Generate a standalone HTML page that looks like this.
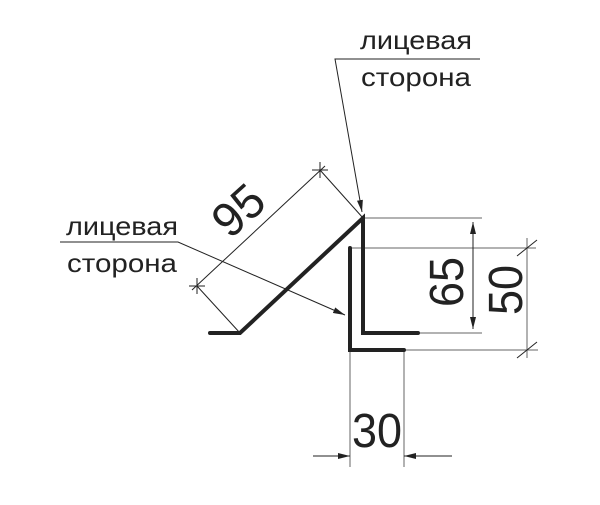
<!DOCTYPE html>
<html><head><meta charset="utf-8"><style>html,body{margin:0;padding:0;background:#fff}</style></head>
<body>
<svg width="600" height="500" viewBox="0 0 600 500" xmlns="http://www.w3.org/2000/svg">
<defs>
<marker id="a" viewBox="0 0 12 6" refX="12" refY="3" markerWidth="12" markerHeight="6" orient="auto" markerUnits="userSpaceOnUse"><path d="M0,0 L12,3 L0,6 Z" fill="#222"/></marker>
</defs>
<g fill="none" stroke="#222" stroke-width="1">
<line x1="365" y1="218" x2="482" y2="218" stroke="#666"/>
<line x1="352" y1="248" x2="536" y2="248" stroke="#666"/>
<line x1="418" y1="333" x2="482" y2="333" stroke="#666"/>
<line x1="404" y1="350" x2="538" y2="350" stroke="#666"/>
<line x1="350" y1="350" x2="350" y2="467" stroke="#666"/>
<line x1="404" y1="350" x2="404" y2="467" stroke="#666"/>
<line x1="473" y1="222" x2="473" y2="329" marker-end="url(#a)"/>
<line x1="473" y1="329" x2="473" y2="222" marker-end="url(#a)"/>
<line x1="527" y1="238" x2="527" y2="358" stroke="#666"/>
<line x1="517" y1="256" x2="537" y2="240"/>
<line x1="517" y1="358" x2="537" y2="342"/>
<line x1="313" y1="456" x2="350" y2="456" marker-end="url(#a)"/>
<line x1="452" y1="456" x2="404" y2="456" marker-end="url(#a)"/>
<line x1="320" y1="170" x2="363" y2="218"/>
<line x1="197" y1="286" x2="240" y2="333"/>
<line x1="325" y1="166" x2="192" y2="290"/>
<line x1="320" y1="162" x2="320" y2="178"/><line x1="312" y1="170" x2="328" y2="170"/>
<line x1="197" y1="278" x2="197" y2="294"/><line x1="189" y1="286" x2="205" y2="286"/>
<polyline points="480,59 335,59 362,212" marker-end="url(#a)"/>
<polyline points="60,242 178,242 345,315" marker-end="url(#a)"/>
</g>
<g fill="none" stroke="#222" stroke-width="4" stroke-linecap="round" stroke-linejoin="miter">
<polyline points="210,333 240,333 363,218 363,333 418,333"/>
<polyline points="350,248 350,350 404,350"/>
</g>
<g font-family="Liberation Sans, DejaVu Sans, sans-serif" fill="#222">
<text x="360" y="49" font-size="26" textLength="112" lengthAdjust="spacingAndGlyphs">лицевая</text>
<text x="361" y="86" font-size="26" textLength="110" lengthAdjust="spacingAndGlyphs">сторона</text>
<text x="66" y="235" font-size="26" textLength="112" lengthAdjust="spacingAndGlyphs">лицевая</text>
<text x="67" y="272" font-size="26" textLength="110" lengthAdjust="spacingAndGlyphs">сторона</text>
<text x="352" y="447" font-size="48" textLength="50" lengthAdjust="spacingAndGlyphs">30</text>
<text transform="translate(463,307) rotate(-90)" font-size="48" textLength="50" lengthAdjust="spacingAndGlyphs">65</text>
<text transform="translate(522,315) rotate(-90)" font-size="48" textLength="50" lengthAdjust="spacingAndGlyphs">50</text>
<text transform="translate(230,240) rotate(-42)" font-size="48" textLength="52" lengthAdjust="spacingAndGlyphs">95</text>
</g>
</svg>
</body></html>
